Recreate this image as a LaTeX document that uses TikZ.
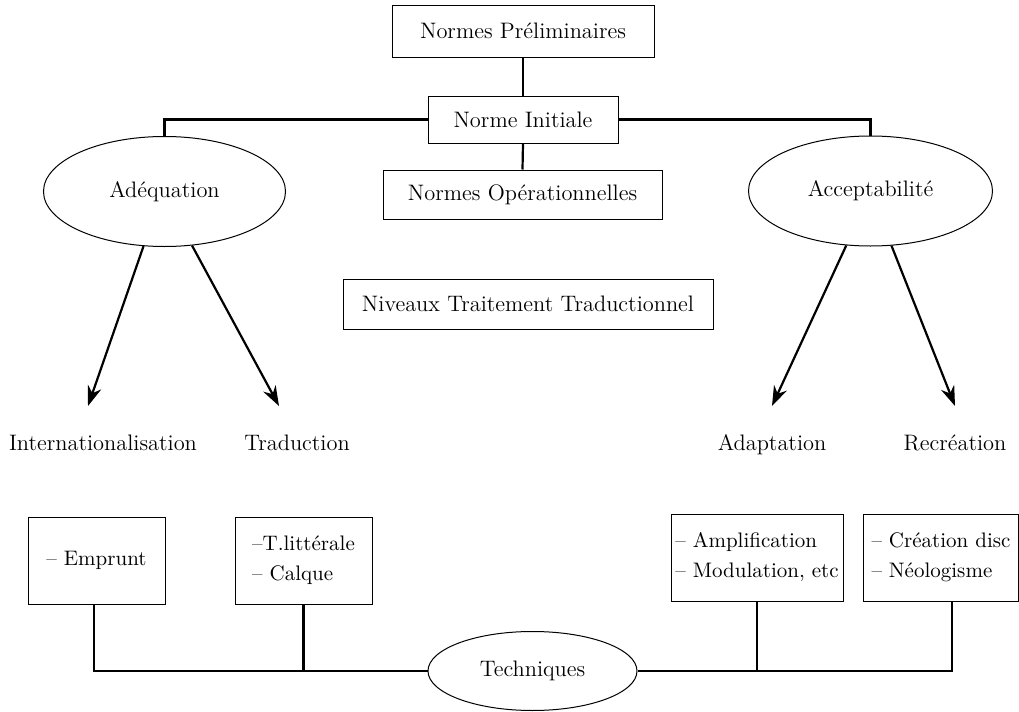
\documentclass[tikz,border=0pt]{standalone}
\usetikzlibrary{shapes.geometric,arrows.meta,calc}
\begin{document}
\begin{tikzpicture}[x=0.5pt,y=-0.5pt,
  every node/.style={font=\fontsize{11.2}{15}\selectfont, inner sep=2pt},
  rbox/.style={draw, line width=0.5pt, rectangle, align=center},
  ebox/.style={draw, line width=0.5pt, ellipse},
  lbox/.style={draw, line width=0.5pt, rectangle, align=left, minimum height=43.5pt, font=\fontsize{10.5}{15}\selectfont},
  conn/.style={line width=1.1pt},
  arr/.style={line width=1.1pt, -{Stealth[length=10pt,width=7pt]}},
  lbl/.style={inner sep=0pt, anchor=base}]
\useasboundingbox (0,0) rectangle (1019,712);
% top boxes
\node[rbox, minimum width=131pt, minimum height=26pt] (prelim) at (523,31) {Normes Préliminaires};
\node[rbox, minimum width=95pt, minimum height=23.5pt] (init) at (523,119.5) {Norme Initiale};
\node[rbox, minimum width=139.5pt, minimum height=24.5pt] (oper) at (522.5,194.5) {Normes Opérationnelles};
\node[rbox, minimum width=185pt, minimum height=25pt] (niv) at (528,304) {Niveaux Traitement Traductionnel};
% ellipses
\node[ebox, minimum width=121pt, minimum height=55pt] (adeq) at (164.5,191.5) {Adéquation};
\node[ebox, minimum width=122pt, minimum height=55pt] (accept) at (870.5,191) {Acceptabilité};
% connectors top
\draw[conn] (prelim.south) -- (init.north);
\draw[conn] (init.south) -- (oper.north);
\draw[conn] (init.west) -| (adeq.north);
\draw[conn] (init.east) -| (accept.north);
% arrow tips
\coordinate (t1) at (88,406);
\coordinate (t2) at (279,406);
\coordinate (t3) at (772,406);
\coordinate (t4) at (955,406);
\draw[arr] (adeq.249) -- (t1);
\draw[arr] (adeq.297) -- (t2);
\draw[arr] (accept.246) -- (t3);
\draw[arr] (accept.291) -- (t4);
% labels
\node[lbl] (inter) at (103,450) {Internationalisation};
\node[lbl] (trad) at (297,450) {Traduction};
\node[lbl] (adapt) at (772,450) {Adaptation};
\node[lbl] (recr) at (955,450) {Recréation};
% bottom boxes
\node[lbox, minimum width=68.5pt] (empr) at (96.5,560.5) {-- Emprunt};
\node[lbox, minimum width=68.5pt] (litt) at (303.5,560.5) {--T.littérale\\-- Calque};
\node[lbox, minimum width=86pt] (ampl) at (757,557.5) {-- Amplification\\-- Modulation, etc};
\node[lbox, minimum width=77.5pt] (crea) at (941,557.5) {-- Création disc\\-- Néologisme};
% techniques
\node[ebox, minimum width=104.5pt, minimum height=39.5pt] (tech) at (532.5,671) {Techniques};
\coordinate (cx) at (952,0);
\coordinate (ex) at (94,0);
\draw[conn] (empr.south -| ex) |- (tech.west);
\draw[conn] (litt.south) -- (litt.south |- tech.west);
\draw[conn] (tech.east) -| (crea.south -| cx);
\draw[conn] (ampl.south) -- (ampl.south |- tech.east);
\end{tikzpicture}
\end{document}
